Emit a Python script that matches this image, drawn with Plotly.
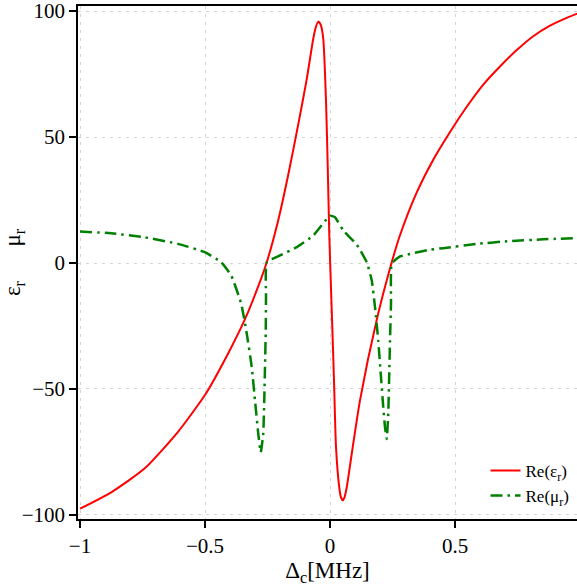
import plotly.graph_objects as go

red_x = [-1.0, -0.875, -0.741, -0.608, -0.497, -0.408, -0.341, -0.288, -0.253, -0.207,
         -0.167, -0.127, -0.093, -0.067, -0.057, -0.047, -0.037, -0.027, -0.016, -0.009,
         -0.003, 0.003, 0.011, 0.016, 0.024, 0.037, 0.044, 0.051, 0.058, 0.067, 0.087,
         0.12, 0.187, 0.247, 0.28, 0.347, 0.413, 0.493, 0.547, 0.613, 0.68, 0.747,
         0.813, 0.88, 0.947, 0.99]
red_y = [-97.5, -91, -81.5, -67, -51.9, -36, -22.5, -9.5, 0.3, 17,
         35, 55, 73, 89, 93.5, 95.8, 94.5, 89, 64.5, 38,
         11.7, -7, -31, -46.6, -73, -89, -93, -94.2, -93, -89, -75.7,
         -54.5, -22.5, 0.3, 11, 28, 41, 54, 62, 70.8, 78, 84.5,
         90, 94.2, 97.3, 99]

green_x = [-1.0, -0.876, -0.741, -0.608, -0.501, -0.435, -0.395, -0.355, -0.333, -0.313,
           -0.3, -0.287, -0.277, -0.267, -0.263, -0.26, -0.257, -0.256, -0.253, -0.2,
           -0.133, -0.067, -0.007, 0.0, 0.02, 0.053, 0.107, 0.147, 0.167, 0.18, 0.193,
           0.203, 0.213, 0.22, 0.227, 0.233, 0.237, 0.24, 0.244, 0.247, 0.28, 0.32,
           0.4, 0.453, 0.587, 0.72, 0.853, 0.99]
green_y = [12.5, 11.8, 10.2, 7.6, 4.3, 0.3, -5, -16.2, -28, -41.3,
           -54.6, -67.7, -75.1, -67.7, -54.6, -41.3, -26.8, -13.6, 0.3, 3,
           6.3, 10.9, 18.2, 18.8, 18.2, 12.9, 7.3, 0.3, -6.9, -17.5, -30.8,
           -44, -57.2, -65.2, -69.8, -59.8, -44, -30.8, -16.2, -0.3, 2.6, 3.6,
           5.3, 5.9, 7.6, 8.7, 9.4, 9.9]

x_ticks = [-1, -0.5, 0, 0.5, 1]
x_tick_labels = ["\u22121", "\u22120.5", "0", "0.5", "1"]
y_ticks = [-100, -50, 0, 50, 100]
y_tick_labels = ["\u2212100", "\u221250", "0", "50", "100"]

FONT = "Liberation Serif"

fig = go.Figure()
fig.add_trace(go.Scatter(x=red_x, y=red_y, mode="lines", name="Re(\u03b5<sub>r</sub>)",
                         line=dict(color="#ff0000", width=2, shape="spline", smoothing=0.6)))
fig.add_trace(go.Scatter(x=green_x, y=green_y, mode="lines", name="Re(\u03bc<sub>r</sub>)",
                         line=dict(color="#008000", width=2.5, dash="12px,5px,2.5px,5px",
                                   shape="spline", smoothing=0.4)))

axis_common = dict(
    showline=True, linecolor="black", linewidth=1.5, mirror=True,
    ticks="outside", ticklen=7, tickwidth=1.5, tickcolor="black",
    showgrid=True, gridcolor="#d3d3d3", gridwidth=1, griddash="3px,5px",
    zeroline=False, tickfont=dict(family=FONT, size=21, color="black"),
    automargin=False, ticklabeloverflow="allow",
)

fig.update_layout(
    width=577, height=587,
    margin=dict(l=78, r=0, t=6, b=68),
    plot_bgcolor="white", paper_bgcolor="white",
    font=dict(family=FONT, color="black"),
    xaxis=dict(range=[-1.008, 0.988], tickvals=x_ticks, ticktext=x_tick_labels,
               title=dict(text="\u0394<sub>c</sub>[MHz]", font=dict(family=FONT, size=23), standoff=4),
               **axis_common),
    yaxis=dict(range=[-101.6, 102], tickvals=y_ticks, ticktext=y_tick_labels,
               title=dict(text="\u03b5<sub>r</sub>\u00a0\u00a0\u00a0\u00a0\u00a0\u00a0\u03bc<sub>r</sub>",
                          font=dict(family=FONT, size=23), standoff=14),
               **axis_common),
    legend=dict(x=0.995, xanchor="right", y=0.01, yanchor="bottom",
                bgcolor="rgba(0,0,0,0)", font=dict(family=FONT, size=17),
                itemwidth=30, tracegroupgap=4),
    showlegend=True,
)

fig.write_html("out.html", config={"displayModeBar": False},
               post_script="document.body.style.margin='0';")
